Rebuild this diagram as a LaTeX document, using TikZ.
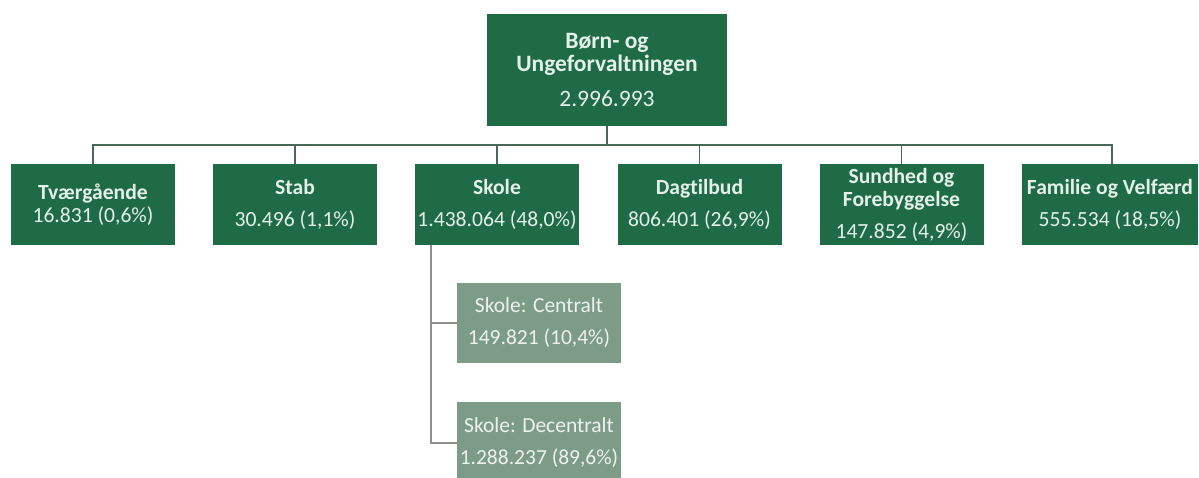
\documentclass[tikz,border=0pt]{standalone}
\usepackage{fontspec}
\setmainfont{Carlito}[Ligatures=NoCommon]
\usetikzlibrary{calc}
\definecolor{boxgreen}{HTML}{1E6B46}
\definecolor{boxtext}{HTML}{E4F1E6}
\definecolor{subfill}{HTML}{7C9C88}
\definecolor{subtext}{HTML}{EEF2EE}
\definecolor{linegreen}{HTML}{46695A}
\definecolor{linegrey}{HTML}{8E8E8E}
\tikzset{
  mainbox/.style={rectangle, fill=boxgreen, text=boxtext, align=center, inner sep=0pt,
    minimum height=81pt, minimum width=164pt, font=\fontsize{21.6}{23}\selectfont},
  topbox/.style={mainbox, minimum width=240pt, minimum height=112pt, font=\fontsize{23.5}{23}\selectfont},
  subbox/.style={rectangle, fill=subfill, text=subtext, align=center, inner sep=0pt,
    minimum height=80pt, minimum width=164pt, font=\fontsize{21.5}{23}\selectfont},
  conn/.style={draw=linegreen, line width=1.6pt},
  subconn/.style={draw=linegrey, line width=1.6pt},
}
\begin{document}
\begin{tikzpicture}[x=1pt,y=-1pt]
\clip (0,0) rectangle (1199,477);
\fill[white] (0,0) rectangle (1199,477);
\node[topbox] (top) at (607,70) {\textbf{Børn- og}\\\textbf{Ungeforvaltningen}\\[12pt]2.996.993};
\node[mainbox] (tv) at (93,204.5) {\textbf{Tværgående}\\16.831 (0,6\%)};
\node[mainbox] (stab) at (295,204.5) {\textbf{Stab}\\[9pt]30.496 (1,1\%)};
\node[mainbox] (skole) at (497,204.5) {\textbf{Skole}\\[9pt]1.438.064 (48,0\%)};
\node[mainbox] (dag) at (699.5,204.5) {\textbf{Dagtilbud}\\[9pt]806.401 (26,9\%)};
\node[mainbox] (sund) at (901.5,204.5) {\textbf{Sundhed og}\\\textbf{Forebyggelse}\\[9pt]147.852 (4,9\%)};
\node[mainbox, minimum width=176pt] (fam) at (1110,204.5) {\textbf{Familie og Velfærd}\\[9pt]555.534 (18,5\%)};
\node[subbox] (cen) at (539,323) {Skole: Centralt\\[9pt]149.821 (10,4\%)};
\node[subbox, minimum height=82pt] (dec) at (539,443) {Skole: Decentralt\\[9pt]1.288.237 (89,6\%)};
\coordinate (bus) at ($(top.south)+(0,19)$);
\foreach \c in {tv,stab,skole,dag,sund} {
  \draw[conn] (top.south) -- (bus) -| (\c.north);
}
\coordinate (famtop) at ([xshift=2pt]fam.north);
\draw[conn] (top.south) -- (bus) -| (famtop);
\coordinate (skb) at ([xshift=-66pt]skole.south);
\draw[subconn] (skb) |- (cen.west);
\draw[subconn] (skb) |- (dec.west);
\end{tikzpicture}
\end{document}
